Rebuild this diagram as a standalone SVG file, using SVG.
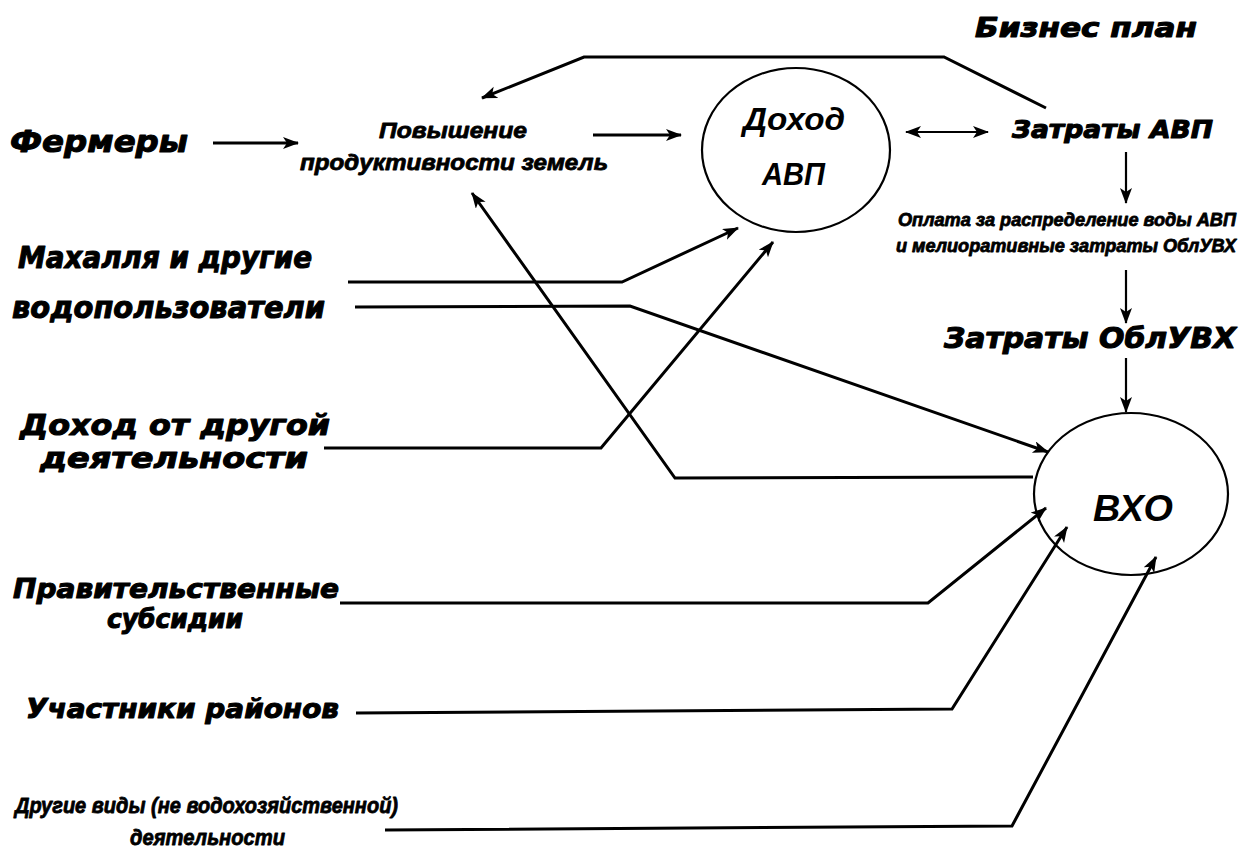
<svg xmlns="http://www.w3.org/2000/svg" width="1245" height="852" viewBox="0 0 1245 852">
<style>
.t{font-family:"DejaVu Sans","Liberation Sans",sans-serif;font-weight:bold;font-style:italic;fill:#000;stroke:#000;stroke-width:1.1;stroke-linejoin:round}
.s{font-family:"Liberation Sans",Arial,sans-serif;stroke-width:0.8}
.c{font-family:"Liberation Sans",Arial,sans-serif;font-weight:bold;font-style:italic;fill:#000}
.n{fill:none;stroke:#000;stroke-width:2.2}
.k{fill:none;stroke:#000;stroke-width:3;stroke-linejoin:miter}
.a{marker-end:url(#ah)}
</style>
<defs>
<marker id="ah" markerUnits="userSpaceOnUse" markerWidth="18" markerHeight="14" refX="15" refY="6" orient="auto">
<path d="M0,0 L16,6 L0,12 L4,6 z" fill="#000"/>
</marker>
<marker id="as" markerUnits="userSpaceOnUse" markerWidth="18" markerHeight="14" refX="1" refY="6" orient="auto">
<path d="M16,0 L0,6 L16,12 L12,6 z" fill="#000"/>
</marker>
</defs>
<rect width="1245" height="852" fill="#fff"/>
<g id="connectors">
<path class="k a" d="M213,143 L298,143"/>
<path class="k a" d="M593,135 L681,135"/>
<path class="n" d="M906,132 L988,132" marker-start="url(#as)" marker-end="url(#ah)"/>
<path class="n a" d="M1126,152 L1126,203"/>
<path class="n a" d="M1126,270 L1126,323"/>
<path class="n a" d="M1126,358 L1126,412"/>
<path class="k a" d="M1046,108 L944,57 L584,57 L482,98"/>
<path class="k a" d="M348,282 L622,282 L738,228"/>
<path class="k a" d="M355,307 L630,306 L1048,452"/>
<path class="k a" d="M324,448 L601,448 L773,242"/>
<path class="k a" d="M1033,477 L675,478 L472,193"/>
<path class="k a" d="M340,603 L928,603 L1046,508"/>
<path class="k a" d="M356,713 L952,709 L1067,527"/>
<path class="k a" d="M385,830 L1012,826 L1156,557"/>
</g>
<g id="biznes-plan"><text class="t" x="975" y="37" font-size="26" textLength="222" lengthAdjust="spacingAndGlyphs">Бизнес план</text></g>
<g id="fermery"><text class="t" x="10" y="152" font-size="31" textLength="178" lengthAdjust="spacingAndGlyphs">Фермеры</text></g>
<g id="povyshenie">
<text class="t s" x="379" y="138" font-size="22" textLength="148" lengthAdjust="spacingAndGlyphs">Повышение</text>
<text class="t s" x="300" y="170" font-size="22" textLength="308" lengthAdjust="spacingAndGlyphs">продуктивности земель</text>
</g>
<g id="dohod-avp">
<ellipse class="n" cx="796" cy="150" rx="94" ry="82"/>
<text class="c" x="743" y="130" font-size="31" textLength="102" lengthAdjust="spacingAndGlyphs">Доход</text>
<text class="c" x="762" y="185" font-size="31" textLength="63" lengthAdjust="spacingAndGlyphs">АВП</text>
</g>
<g id="zatraty-avp"><text class="t" x="1012" y="138" font-size="24" textLength="201" lengthAdjust="spacingAndGlyphs">Затраты АВП</text></g>
<g id="oplata">
<text class="t s" x="1236" y="226" font-size="18" text-anchor="end" textLength="338" lengthAdjust="spacingAndGlyphs">Оплата за распределение воды АВП</text>
<text class="t s" x="1236" y="252" font-size="18" text-anchor="end" textLength="340" lengthAdjust="spacingAndGlyphs">и мелиоративные затраты ОблУВХ</text>
</g>
<g id="zatraty-obluvh"><text class="t" x="944" y="348" font-size="28" textLength="292" lengthAdjust="spacingAndGlyphs">Затраты ОблУВХ</text></g>
<g id="vho">
<ellipse class="n" cx="1131" cy="494" rx="97" ry="81"/>
<text class="c" x="1093" y="521" font-size="37" textLength="80" lengthAdjust="spacingAndGlyphs">ВХО</text>
</g>
<g id="mahallya">
<text class="t" x="18" y="268" font-size="30" textLength="294" lengthAdjust="spacingAndGlyphs">Махалля и другие</text>
<text class="t" x="12" y="318" font-size="30" textLength="313" lengthAdjust="spacingAndGlyphs">водопользователи</text>
</g>
<g id="dohod-drugoy">
<text class="t" x="20" y="435" font-size="29" textLength="310" lengthAdjust="spacingAndGlyphs">Доход от другой</text>
<text class="t" x="40" y="468" font-size="29" textLength="268" lengthAdjust="spacingAndGlyphs">деятельности</text>
</g>
<g id="subsidii">
<text class="t" x="13" y="598" font-size="27" textLength="326" lengthAdjust="spacingAndGlyphs">Правительственные</text>
<text class="t" x="107" y="628" font-size="27" textLength="136" lengthAdjust="spacingAndGlyphs">субсидии</text>
</g>
<g id="uchastniki"><text class="t" x="26" y="718" font-size="27" textLength="313" lengthAdjust="spacingAndGlyphs">Участники районов</text></g>
<g id="drugie-vidy">
<text class="t s" x="15" y="813" font-size="22" textLength="383" lengthAdjust="spacingAndGlyphs">Другие виды (не водохозяйственной)</text>
<text class="t s" x="130" y="845" font-size="22" textLength="155" lengthAdjust="spacingAndGlyphs">деятельности</text>
</g>
</svg>
